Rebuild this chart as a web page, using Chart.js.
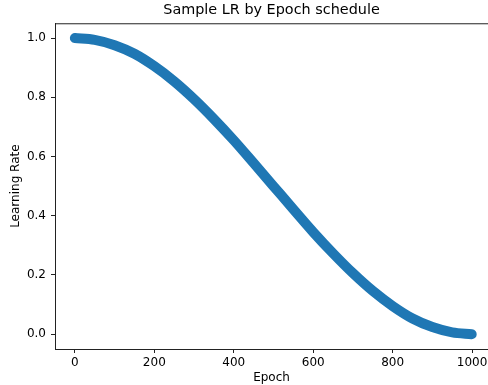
<!DOCTYPE html>
<html>
<head>
<meta charset="utf-8">
<script src="https://cdn.jsdelivr.net/npm/chart.js@4.4.1/dist/chart.umd.min.js"></script>
<style>
  body { margin: 0; background: #fff; }
</style>
</head>
<body>
<canvas id="lrChart" width="488" height="385"></canvas>
<script>
// values, every 50 epochs
const epochs = [0, 50, 100, 150, 200, 250, 300, 350, 400, 450, 500, 550, 600, 650, 700, 750, 800, 850, 900, 950, 999];
const learningRates = [1.0, 0.994, 0.976, 0.947, 0.905, 0.854, 0.794, 0.727, 0.655, 0.578, 0.5, 0.422, 0.345, 0.273, 0.206, 0.146, 0.095, 0.053, 0.024, 0.006, 0.0];
const xTicks = [0, 200, 400, 600, 800, 1000];
const yTicks = [0.0, 0.2, 0.4, 0.6, 0.8, 1.0];

const font = "'DejaVu Sans', sans-serif";

// top spine, like matplotlib's frame
const topSpine = {
  id: 'topSpine',
  afterDraw(chart) {
    const { ctx, chartArea } = chart;
    ctx.save();
    ctx.strokeStyle = '#222';
    ctx.lineWidth = 1;
    ctx.beginPath();
    ctx.moveTo(chartArea.left, chartArea.top + 0.5);
    ctx.lineTo(chartArea.right, chartArea.top + 0.5);
    ctx.stroke();
    ctx.restore();
  }
};

const ctx = document.getElementById('lrChart').getContext('2d');
new Chart(ctx, {
  type: 'scatter',
  data: {
    datasets: [{
      data: epochs.map((e, i) => ({ x: e, y: learningRates[i] })),
      showLine: true,
      borderColor: '#1f77b4',
      backgroundColor: '#1f77b4',
      borderWidth: 10,
      borderCapStyle: 'round',
      borderJoinStyle: 'round',
      cubicInterpolationMode: 'monotone',
      pointRadius: 0
    }]
  },
  options: {
    responsive: false,
    animation: false,
    layout: { padding: 0, autoPadding: false },
    plugins: {
      legend: { display: false },
      tooltip: { enabled: false },
      title: {
        display: true,
        text: 'Sample LR by Epoch schedule',
        color: '#000',
        font: { family: font, size: 14.4, weight: 'normal' },
        padding: { top: 2, bottom: 4 },
        fullSize: false
      }
    },
    scales: {
      x: {
        type: 'linear',
        min: -50,
        max: 1040,
        afterBuildTicks: s => { s.ticks = xTicks.map(v => ({ value: v })); },
        afterFit: s => { s.height = 36; s.paddingLeft = 0; s.paddingRight = 0; },
        ticks: {
          color: '#000',
          font: { family: font, size: 12 },
          padding: 3,
          maxRotation: 0,
          callback: v => String(v)
        },
        grid: { drawOnChartArea: false, tickLength: 4, tickColor: '#222' },
        border: { display: true, color: '#222', width: 1 },
        title: {
          display: true,
          text: 'Epoch',
          color: '#000',
          font: { family: font, size: 12 },
          padding: { top: 0, bottom: 0 }
        }
      },
      y: {
        min: -0.05,
        max: 1.05,
        afterBuildTicks: s => { s.ticks = yTicks.map(v => ({ value: v })); },
        afterFit: s => { s.width = 55; s.paddingTop = 0; s.paddingBottom = 0; },
        ticks: {
          color: '#000',
          font: { family: font, size: 12 },
          padding: 5,
          callback: v => v.toFixed(1)
        },
        grid: { drawOnChartArea: false, tickLength: 4, tickColor: '#222' },
        border: { display: true, color: '#222', width: 1 },
        title: {
          display: true,
          text: 'Learning Rate',
          color: '#000',
          font: { family: font, size: 12 },
          padding: { top: 9, bottom: 0 }
        }
      }
    }
  },
  plugins: [topSpine]
});
</script>
</body>
</html>
